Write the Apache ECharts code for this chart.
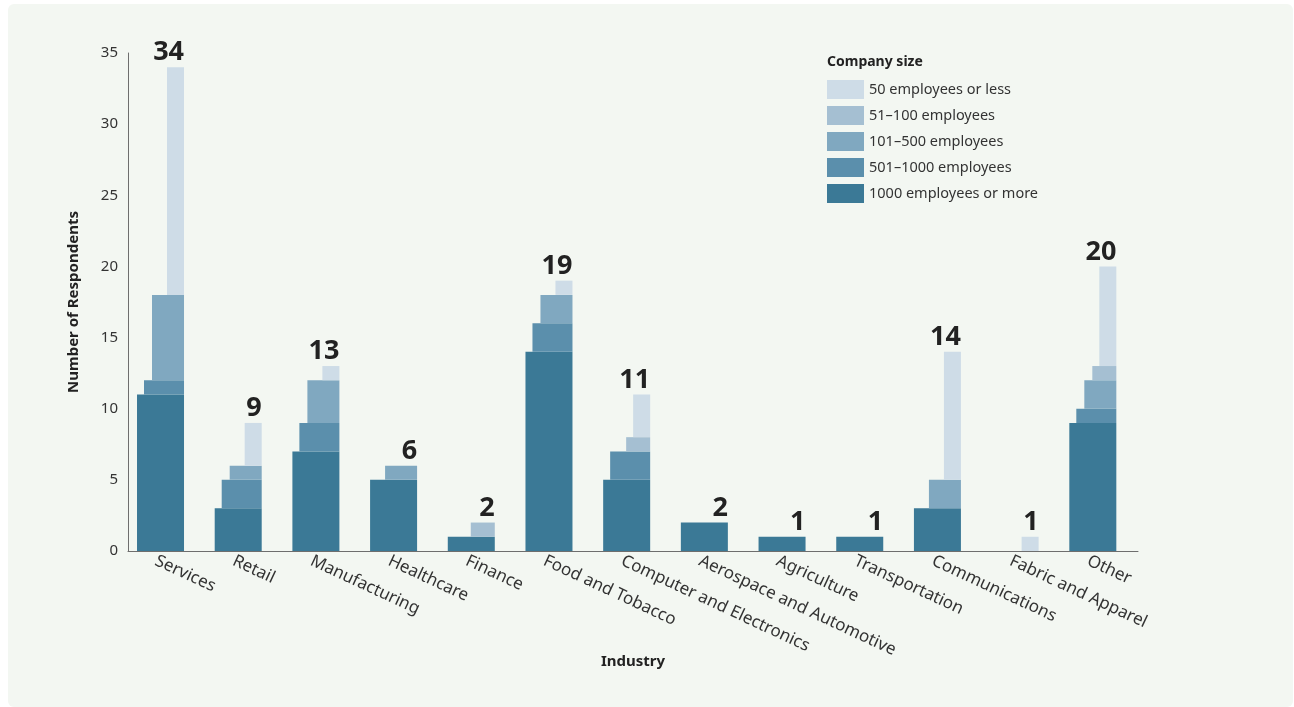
<!DOCTYPE html>
<html>
<head>
<meta charset="utf-8">
<script src="https://cdn.jsdelivr.net/npm/echarts@6/dist/echarts.min.js"></script>
<style>
  html, body { margin: 0; padding: 0; background: #ffffff; }
  #panel { position: absolute; left: 8px; top: 4px; width: 1285px; height: 703px; background: #f3f7f2; border-radius: 6px; }
  #chart { position: absolute; left: 0; top: 0; width: 1294px; height: 707px; }
</style>
</head>
<body>
<div id="panel"></div>
<div id="chart"></div>
<script>
// Survey respondents by industry, split by company size
const categories = ['Services', 'Retail', 'Manufacturing', 'Healthcare', 'Finance', 'Food and Tobacco',
  'Computer and Electronics', 'Aerospace and Automotive', 'Agriculture', 'Transportation',
  'Communications', 'Fabric and Apparel', 'Other'];

const sizeNames = ['1000 employees or more', '501–1000 employees', '101–500 employees',
  '51–100 employees', '50 employees or less'];

const over1000     = [11, 3, 7, 5, 1, 14, 5, 2, 1, 1, 3, 0, 9];
const from501to1000 = [1, 2, 2, 0, 0, 2, 2, 0, 0, 0, 0, 0, 1];
const from101to500  = [6, 1, 3, 1, 0, 2, 0, 0, 0, 0, 2, 0, 2];
const from51to100   = [0, 0, 0, 0, 1, 0, 1, 0, 0, 0, 0, 0, 1];
const upTo50        = [16, 3, 1, 0, 0, 1, 3, 0, 0, 0, 9, 1, 7];

const yTicks = [0, 5, 10, 15, 20, 25, 30, 35];

const layers = [over1000, from501to1000, from101to500, from51to100, upTo50];
const colors = ['#3b7996', '#5b8fac', '#80a8c0', '#a5bfd2', '#cedce7'];

// each layer is narrower than the one below it, all sharing the same right edge
const widthFrac = [0.605, 0.515, 0.412, 0.309, 0.219];
const rightFrac = 0.221;
const FONT = '"Noto Sans", Lato, sans-serif';

// running bases for the stacked steps
const bases = categories.map(() => 0);
const layerData = layers.map(vals => vals.map((v, i) => {
  const b = bases[i];
  bases[i] += v;
  return [i, b, b + v];
}));
const totals = categories.map((c, i) => layers.reduce((s, vals) => s + vals[i], 0));

function stepRenderer(layer) {
  return function (params, api) {
    const idx = api.value(0), base = api.value(1), top = api.value(2);
    if (!(top > base)) return null;
    const band = api.size([1, 0])[0];
    const center = api.coord([idx, 0])[0];
    const right = center + band * rightFrac;
    const w = band * widthFrac[layer];
    const y0 = api.coord([idx, base])[1];
    const y1 = api.coord([idx, top])[1];
    return {
      type: 'rect',
      shape: { x: right - w, y: y1, width: w, height: y0 - y1 },
      style: { fill: colors[layer] }
    };
  };
}

const series = layers.map((vals, k) => ({
  name: sizeNames[k],
  type: 'custom',
  xAxisIndex: 0,
  yAxisIndex: 0,
  itemStyle: { color: colors[k] },
  encode: { x: 0, y: [1, 2] },
  data: layerData[k],
  renderItem: stepRenderer(k),
  z: 2 + k
}));

series.push({
  name: 'total',
  type: 'custom',
  xAxisIndex: 0,
  yAxisIndex: 0,
  encode: { x: 0, y: 1 },
  data: totals.map((t, i) => [i, t]),
  renderItem: function (params, api) {
    const idx = api.value(0), t = api.value(1);
    const band = api.size([1, 0])[0];
    const p = api.coord([idx, t]);
    return {
      type: 'text',
      style: {
        x: p[0] + band * rightFrac,
        y: p[1] - 1,
        text: String(t),
        align: 'right',
        verticalAlign: 'bottom',
        fontSize: 27,
        fontWeight: 'bold',
        fontFamily: FONT,
        fill: '#222222'
      }
    };
  },
  z: 10
});

const chart = echarts.init(document.getElementById('chart'), null, { renderer: 'canvas' });
chart.setOption({
  backgroundColor: 'transparent',
  animation: false,
  title: {
    text: 'Company size',
    left: 827,
    top: 55,
    padding: 0,
    textStyle: { fontFamily: FONT, fontSize: 14, fontWeight: 'bold', color: '#222222' }
  },
  legend: {
    data: sizeNames.slice().reverse(),
    orient: 'vertical',
    left: 827,
    top: 80,
    padding: 0,
    itemWidth: 37,
    itemHeight: 19,
    itemGap: 7,
    icon: 'rect',
    selectedMode: false,
    textStyle: { fontFamily: FONT, fontSize: 14.5, color: '#333333' }
  },
  grid: [
    { left: 128, right: 156, top: 53, bottom: 156 },
    { left: 117, right: 167, top: 53, bottom: 156 }
  ],
  xAxis: [
    {
      type: 'category',
      gridIndex: 0,
      data: categories,
      name: 'Industry',
      nameLocation: 'middle',
      nameGap: 103,
      nameTextStyle: { fontFamily: FONT, fontSize: 15, fontWeight: 'bold', color: '#222222' },
      axisLine: { lineStyle: { color: '#6e6e6e', width: 1 } },
      axisTick: { show: false },
      axisLabel: { show: false }
    },
    {
      type: 'category',
      gridIndex: 1,
      data: categories,
      axisLine: { show: false },
      axisTick: { show: false },
      axisLabel: {
        interval: 0,
        rotate: -25,
        margin: 9,
        fontFamily: FONT,
        fontSize: 17,
        color: '#333333'
      }
    }
  ],
  yAxis: [
    {
      type: 'value',
      gridIndex: 0,
      min: yTicks[0],
      max: yTicks[yTicks.length - 1],
      interval: yTicks[1] - yTicks[0],
      name: 'Number of Respondents',
      nameLocation: 'middle',
      nameGap: 47,
      nameTextStyle: { fontFamily: FONT, fontSize: 15, fontWeight: 'bold', color: '#222222' },
      axisLine: { show: true, lineStyle: { color: '#6e6e6e', width: 1 } },
      axisTick: { show: false },
      splitLine: { show: false },
      axisLabel: { margin: 10, fontFamily: FONT, fontSize: 15, color: '#333333' }
    },
    { type: 'value', gridIndex: 1, show: false, min: 0, max: 35 }
  ],
  series: series
});
</script>
</body>
</html>
